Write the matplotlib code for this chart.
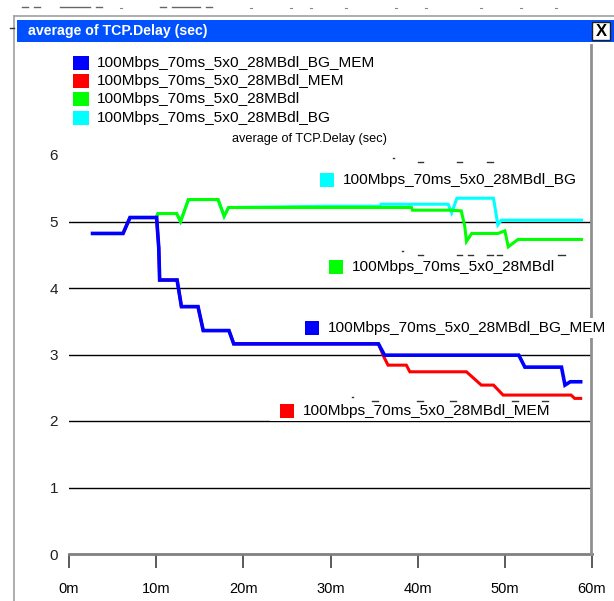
import matplotlib
matplotlib.use("Agg")
import matplotlib.pyplot as plt
from matplotlib.patches import Rectangle
from matplotlib.lines import Line2D

W, H = 614, 601

title = "average of TCP.Delay (sec)"
series_names = ["100Mbps_70ms_5x0_28MBdl_BG_MEM", "100Mbps_70ms_5x0_28MBdl_MEM",
                "100Mbps_70ms_5x0_28MBdl", "100Mbps_70ms_5x0_28MBdl_BG"]
series_colors = ["#0000ff", "#ff0000", "#00ff00", "#00ffff"]

# time (minutes), value (sec)
blue_t = [2.7, 6.2, 7.0, 10.05, 10.3, 10.4, 12.4, 12.9, 14.8, 15.4, 18.35, 18.9,
          35.5, 36.2, 51.6, 52.3, 56.5, 56.9, 57.5, 58.7]
blue_v = [4.82, 4.82, 5.06, 5.06, 4.60, 4.12, 4.12, 3.72, 3.72, 3.36, 3.36, 3.16,
          3.16, 2.99, 2.99, 2.81, 2.81, 2.54, 2.59, 2.59]

red_t = [2.7, 6.2, 7.0, 10.05, 10.3, 10.4, 12.4, 12.9, 14.8, 15.4, 18.35, 18.9,
         35.5, 36.1, 36.6, 38.7, 39.1, 45.6, 47.3, 48.7, 49.8, 57.6, 58.0, 58.7]
red_v = [4.82, 4.82, 5.06, 5.06, 4.60, 4.12, 4.12, 3.72, 3.72, 3.36, 3.36, 3.16,
         3.16, 2.97, 2.84, 2.84, 2.74, 2.74, 2.54, 2.54, 2.39, 2.39, 2.34, 2.34]

green_t = [10.0, 10.2, 12.35, 12.8, 13.7, 17.1, 17.8, 18.3, 39.3, 39.4, 43.7, 45.0,
           45.4, 45.6, 46.2, 49.2, 50.0, 50.4, 51.5, 58.8]
green_v = [5.06, 5.12, 5.12, 5.00, 5.33, 5.33, 5.08, 5.21, 5.21, 5.17, 5.17, 5.16,
           4.93, 4.70, 4.82, 4.82, 4.86, 4.62, 4.73, 4.73]

cyan_t = [10.0, 10.2, 12.35, 12.8, 13.7, 17.1, 17.8, 18.3, 29.9, 35.7, 35.8, 43.5,
          43.9, 44.5, 48.7, 49.2, 49.6, 58.8]
cyan_v = [5.06, 5.12, 5.12, 5.00, 5.33, 5.33, 5.08, 5.21, 5.23, 5.23, 5.26, 5.26,
          5.13, 5.35, 5.35, 4.95, 5.02, 5.02]

x_ticks = [0, 10, 20, 30, 40, 50, 60]
x_labels = ["0m", "10m", "20m", "30m", "40m", "50m", "60m"]
y_ticks = [0, 1, 2, 3, 4, 5, 6]


def fx(px):
    return px / W


def fy(py):
    return 1 - py / H


fig = plt.figure(figsize=(W / 100, H / 100), dpi=100)
fig.patch.set_facecolor("white")
FONT = ["Liberation Sans", "DejaVu Sans"]

# --- window chrome ---
for x0, x1 in [(22, 28), (34, 40), (60, 90), (96, 102), (160, 166), (172, 200), (206, 212)]:
    fig.add_artist(Line2D([fx(x0), fx(x1)], [fy(7), fy(7)], color="#666666", lw=1.0))
for xx in [120, 250, 290, 310, 345, 395, 425, 480, 520, 555]:
    fig.add_artist(Line2D([fx(xx), fx(xx + 2)], [fy(8), fy(8)], color="#888888", lw=0.8))
fig.add_artist(Line2D([fx(14), fx(614)], [fy(16), fy(16)], color="#a0a0a0", lw=1.2))
fig.add_artist(Line2D([fx(14), fx(14)], [fy(16), fy(601)], color="#a0a0a0", lw=1.2))
fig.add_artist(Line2D([fx(10), fx(14)], [fy(28), fy(28)], color="#333333", lw=1.0))
# title bar
fig.add_artist(Rectangle((fx(17), fy(42)), fx(614) - fx(17), fy(20) - fy(42),
                         facecolor="#0050ff", edgecolor="none", transform=fig.transFigure))
fig.text(fx(28), fy(31.5), title, color="white", fontsize=10.2, fontweight="bold",
         va="center", ha="left", family=FONT)
fig.add_artist(Rectangle((fx(592), fy(40)), fx(18), fy(22) - fy(40),
                         facecolor="white", edgecolor="#202020", lw=1.0, transform=fig.transFigure))
fig.text(fx(601), fy(31), "X", color="black", fontsize=12, fontweight="bold",
         va="center", ha="center", family=FONT)

# --- axes ---
ax = fig.add_axes([fx(69), fy(554), fx(592) - fx(69), fy(155) - fy(554)])
ax.set_xlim(0, 60)
ax.set_ylim(0, 6)
ax.set_facecolor("none")
for s in ["top", "left", "right"]:
    ax.spines[s].set_visible(False)
ax.spines["bottom"].set_color("#808080")
ax.spines["bottom"].set_linewidth(2.0)
ax.set_xticks(x_ticks)
ax.set_xticklabels(x_labels, fontsize=10.5, family=FONT)
ax.tick_params(axis="x", length=10, width=1.2, color="#404040", pad=10, direction="out")
ax.set_yticks(y_ticks)
ax.set_yticklabels([str(v) for v in y_ticks], fontsize=11, family=FONT, color="#202020")
ax.tick_params(axis="y", length=0, pad=8)
for v in [1, 2, 3, 4, 5]:
    ax.axhline(v, color="black", lw=1.0, zorder=1)

fig.add_artist(Line2D([fx(591), fx(591)], [fy(554), fy(45)], color="#909090", lw=2.0))

ax.plot(cyan_t, cyan_v, color=series_colors[3], lw=2.2, zorder=3, solid_joinstyle="miter")
ax.plot(green_t, green_v, color=series_colors[2], lw=2.2, zorder=4, solid_joinstyle="miter")
ax.plot(red_t, red_v, color=series_colors[1], lw=2.2, zorder=5, solid_joinstyle="miter")
ax.plot(blue_t, blue_v, color=series_colors[0], lw=2.6, zorder=6, solid_joinstyle="miter")

# --- top legend ---
LFS = 11.1
leg_y = [63, 81, 99, 118]
for name, col, yy in zip(series_names, series_colors, leg_y):
    fig.add_artist(Rectangle((fx(73), fy(yy + 7)), fx(16), fy(yy - 7) - fy(yy + 7),
                             facecolor=col, edgecolor="none", transform=fig.transFigure))
    fig.text(fx(97), fy(yy), name, fontsize=LFS, va="center", ha="left", family=FONT)

fig.text(fx(232), fy(139), title, fontsize=9.2, va="center", ha="left", family=FONT)

# --- inline labels (white background covering grid) ---
inline = [(3, 320, 180, 270), (2, 329, 267, 260), (0, 305, 328, 309), (1, 280, 411, 290)]
for idx, x0, yy, wbox in inline:
    fig.add_artist(Rectangle((fx(x0 - 10), fy(yy + 10)), fx(wbox), fy(yy - 10) - fy(yy + 10),
                             facecolor="white", edgecolor="none", transform=fig.transFigure,
                             zorder=7))
    fig.add_artist(Rectangle((fx(x0), fy(yy + 7)), fx(14), fy(yy - 7) - fy(yy + 7),
                             facecolor=series_colors[idx], edgecolor="none",
                             transform=fig.transFigure, zorder=8))
    fig.text(fx(x0 + 23), fy(yy), series_names[idx], fontsize=LFS, va="center",
             ha="left", family=FONT, zorder=9)

# small dash artefacts above inline labels
dash_rows = [(162, [(418, 423), (457, 462), (487, 493)], [393]),
             (255, [(418, 423), (457, 462), (468, 473), (487, 493), (497, 502), (558, 565)], [402]),
             (401, [(372, 378), (417, 423), (450, 456), (512, 518), (542, 548)], [352])]
for yy, segs, dots in dash_rows:
    for a, b in segs:
        fig.add_artist(Line2D([fx(a), fx(b)], [fy(yy), fy(yy)], color="#333333", lw=1.0, zorder=10))
    for d in dots:
        fig.add_artist(Line2D([fx(d), fx(d + 1)], [fy(yy - 4), fy(yy - 4)], color="#333333", lw=1.0, zorder=10))

fig.savefig("out.png", dpi=100)
